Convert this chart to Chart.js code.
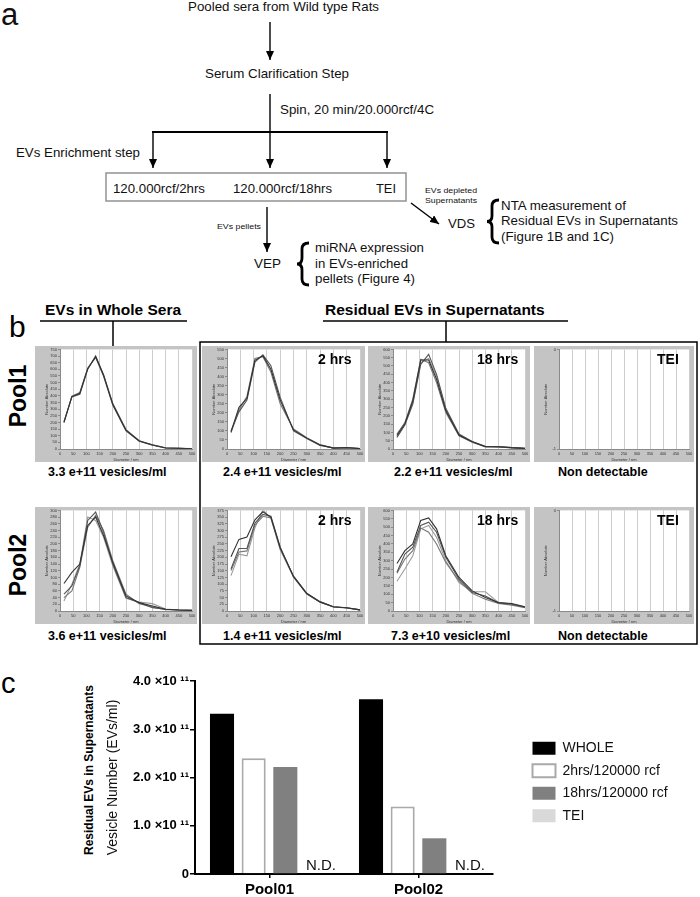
<!DOCTYPE html>
<html>
<head>
<meta charset="utf-8">
<script src="https://cdn.jsdelivr.net/npm/chart.js@4.4.1/dist/chart.umd.min.js"></script>
<style>
  body { margin: 0; background: #fff; }
  #page { position: relative; width: 700px; height: 897px; overflow: hidden; font-family: "Liberation Sans", Arial, sans-serif; color: #000; }
  #flow { position: absolute; left: 0; top: 0; }
  #flow text { font-family: "Liberation Sans", Arial, sans-serif; fill: #111; }
  .abs { position: absolute; white-space: nowrap; }
  .panel { font-size: 30px; line-height: 30px; }
  .head { font-weight: bold; font-size: 15.5px; line-height: 16px; }
  .pool { font-weight: bold; font-size: 23px; line-height: 23px; transform: translate(-50%, -50%) rotate(-90deg); }
  .count { font-weight: bold; font-size: 12.5px; line-height: 14px; }
  .tag { font-weight: bold; font-size: 14px; line-height: 14px; }
  canvas.nta { position: absolute; background: #c4c4c4; }
  #barc { position: absolute; left: 0; top: 665px; }
  .ytitle { font-weight: bold; font-size: 12px; line-height: 12px; transform: translate(-50%, -50%) rotate(-90deg); }
</style>
</head>
<body>
<div id="page">

<svg id="flow" width="700" height="897">
  <defs>
    <marker id="ah" markerWidth="9" markerHeight="8" refX="9" refY="4" orient="auto" markerUnits="userSpaceOnUse">
      <path d="M0,0 L9,4 L0,8 z" fill="#000"/>
    </marker>
  </defs>
  <text x="1" y="25" font-size="31">a</text>

  <text x="188" y="11" font-size="13" textLength="191" lengthAdjust="spacingAndGlyphs">Pooled sera from Wild type Rats</text>
  <line x1="270" y1="22" x2="270" y2="60" stroke="#000" stroke-width="1.4" marker-end="url(#ah)"/>
  <text x="205" y="78" font-size="13" textLength="144" lengthAdjust="spacingAndGlyphs">Serum Clarification Step</text>
  <line x1="270" y1="94" x2="270" y2="168" stroke="#000" stroke-width="1.4" marker-end="url(#ah)"/>
  <text x="280" y="114" font-size="13" textLength="154" lengthAdjust="spacingAndGlyphs">Spin, 20 min/20.000rcf/4C</text>
  <line x1="152" y1="132" x2="388" y2="132" stroke="#000" stroke-width="2"/>
  <line x1="153" y1="132" x2="153" y2="168" stroke="#000" stroke-width="1.4" marker-end="url(#ah)"/>
  <line x1="387" y1="132" x2="387" y2="168" stroke="#000" stroke-width="1.4" marker-end="url(#ah)"/>
  <text x="16" y="157" font-size="13" textLength="124" lengthAdjust="spacingAndGlyphs">EVs Enrichment step</text>

  <rect x="106" y="173" width="300" height="28" fill="none" stroke="#999" stroke-width="1.6"/>
  <text x="113" y="193" font-size="13" textLength="92" lengthAdjust="spacingAndGlyphs">120.000rcf/2hrs</text>
  <text x="233" y="193" font-size="13" textLength="99" lengthAdjust="spacingAndGlyphs">120.000rcf/18hrs</text>
  <text x="376" y="193" font-size="13" textLength="20" lengthAdjust="spacingAndGlyphs">TEI</text>

  <text x="425" y="193" font-size="8" textLength="52" lengthAdjust="spacingAndGlyphs">EVs depleted</text>
  <text x="425" y="203" font-size="8" textLength="52" lengthAdjust="spacingAndGlyphs">Supernatants</text>
  <line x1="411" y1="203" x2="439" y2="224" stroke="#000" stroke-width="1.4" marker-end="url(#ah)"/>
  <text x="448" y="228" font-size="13" textLength="27" lengthAdjust="spacingAndGlyphs">VDS</text>
  <path d="M499,200 Q492,200 492,206 L492,216 Q492,221.5 487,221.5 Q492,221.5 492,227 L492,237 Q492,243 499,243" fill="none" stroke="#000" stroke-width="2.8"/>
  <text x="501" y="210" font-size="13" textLength="125" lengthAdjust="spacingAndGlyphs">NTA measurement of</text>
  <text x="501" y="225" font-size="13" textLength="177" lengthAdjust="spacingAndGlyphs">Residual EVs in Supernatants</text>
  <text x="501" y="241" font-size="13" textLength="113" lengthAdjust="spacingAndGlyphs">(Figure 1B and 1C)</text>

  <line x1="267" y1="207" x2="267" y2="252" stroke="#000" stroke-width="1.4" marker-end="url(#ah)"/>
  <text x="217" y="229" font-size="8" textLength="44" lengthAdjust="spacingAndGlyphs">EVs pellets</text>
  <text x="254" y="268" font-size="13" textLength="27" lengthAdjust="spacingAndGlyphs">VEP</text>
  <path d="M309,243 Q302,243 302,249 L302,258 Q302,264 297,264 Q302,264 302,270 L302,279 Q302,285 309,285" fill="none" stroke="#000" stroke-width="2.8"/>
  <text x="315" y="252" font-size="13" textLength="109" lengthAdjust="spacingAndGlyphs">miRNA expression</text>
  <text x="315" y="268" font-size="13" textLength="93" lengthAdjust="spacingAndGlyphs">in EVs-enriched</text>
  <text x="315" y="283" font-size="13" textLength="100" lengthAdjust="spacingAndGlyphs">pellets (Figure 4)</text>

  <!-- panel b frame lines -->
  <line x1="40" y1="321" x2="187" y2="321" stroke="#000" stroke-width="1.5"/>
  <line x1="113" y1="321" x2="113" y2="346" stroke="#000" stroke-width="1.5"/>
  <line x1="323" y1="321" x2="568" y2="321" stroke="#000" stroke-width="1.5"/>
  <line x1="446" y1="321" x2="446" y2="342" stroke="#000" stroke-width="1.5"/>
  <rect x="200" y="342" width="497" height="302" fill="none" stroke="#000" stroke-width="1.5"/>
</svg>

<div class="abs panel" style="left:9px; top:312px;">b</div>
<div class="abs head" style="left:45px; top:302px;">EVs in Whole Sera</div>
<div class="abs head" style="left:325px; top:302px;">Residual EVs in Supernatants</div>
<div class="abs pool" style="left:18px; top:396px;">Pool1</div>
<div class="abs pool" style="left:18px; top:565px;">Pool2</div>

<canvas class="nta" id="p1w" width="162" height="116" style="left:35px; top:346px;"></canvas>
<canvas class="nta" id="p1h2" width="163" height="116" style="left:202px; top:346px;"></canvas>
<canvas class="nta" id="p1h18" width="162" height="116" style="left:368px; top:346px;"></canvas>
<canvas class="nta" id="p1tei" width="160" height="116" style="left:534px; top:346px;"></canvas>
<canvas class="nta" id="p2w" width="162" height="117" style="left:35px; top:507px;"></canvas>
<canvas class="nta" id="p2h2" width="163" height="117" style="left:202px; top:507px;"></canvas>
<canvas class="nta" id="p2h18" width="162" height="117" style="left:368px; top:507px;"></canvas>
<canvas class="nta" id="p2tei" width="160" height="117" style="left:534px; top:507px;"></canvas>

<div class="abs tag" style="left:318px; top:352px;">2 hrs</div>
<div class="abs tag" style="left:477px; top:352px;">18 hrs</div>
<div class="abs tag" style="left:657px; top:352px;">TEI</div>
<div class="abs tag" style="left:318px; top:513px;">2 hrs</div>
<div class="abs tag" style="left:477px; top:513px;">18 hrs</div>
<div class="abs tag" style="left:657px; top:513px;">TEI</div>

<div class="abs count" style="left:48px; top:465px;">3.3 e+11 vesicles/ml</div>
<div class="abs count" style="left:223px; top:465px;">2.4 e+11 vesicles/ml</div>
<div class="abs count" style="left:394px; top:465px;">2.2 e+11 vesicles/ml</div>
<div class="abs count" style="left:558px; top:465px;">Non detectable</div>
<div class="abs count" style="left:48px; top:629px;">3.6 e+11 vesicles/ml</div>
<div class="abs count" style="left:223px; top:629px;">1.4 e+11 vesicles/ml</div>
<div class="abs count" style="left:391px; top:629px;">7.3 e+10 vesicles/ml</div>
<div class="abs count" style="left:558px; top:629px;">Non detectable</div>

<div class="abs panel" style="left:1px; top:668px; font-size:29px;">c</div>
<div class="abs ytitle" style="left:89px; top:770px;">Residual EVs in Supernatants</div>
<canvas id="barc" width="700" height="232"></canvas>

</div>
<script>
// ---- NTA size distributions (Diameter / nm vs Number Absolute) ----
const nta_diameter = [15, 45, 75, 105, 135, 165, 200, 250, 300, 350, 400, 450, 500];

// Pool1, whole sera
const p1w_a = [200, 395, 420, 605, 695, 555, 335, 140, 60, 30, 8, 6, 2];
const p1w_b = [205, 392, 412, 600, 700, 560, 342, 146, 62, 32, 9, 5, 2];
const p1w_c = [198, 398, 425, 610, 688, 548, 330, 136, 58, 29, 7, 6, 3];
// Pool1, 2 hrs supernatant
const p1h2_a = [95, 230, 280, 490, 515, 440, 270, 105, 60, 22, 5, 8, 2];
const p1h2_b = [100, 205, 270, 480, 520, 460, 285, 100, 58, 20, 6, 7, 2];
const p1h2_c = [90, 215, 290, 500, 510, 425, 250, 110, 62, 24, 5, 6, 3];
// Pool1, 18 hrs supernatant
const p1h18_a = [83, 152, 290, 536, 536, 420, 230, 83, 43, 14, 14, 8, 4];
const p1h18_b = [70, 145, 270, 510, 570, 450, 245, 90, 45, 16, 13, 7, 3];
const p1h18_c = [90, 160, 300, 540, 520, 400, 220, 80, 40, 12, 15, 9, 4];
const p1h18_d = [78, 150, 280, 520, 545, 440, 238, 86, 42, 15, 12, 8, 4];
// Pool2, whole sera
const p2w_a = [82, 115, 140, 255, 280, 225, 145, 45, 25, 15, 5, 3, 2];
const p2w_b = [50, 75, 135, 270, 295, 235, 140, 40, 25, 10, 5, 3, 2];
const p2w_c = [40, 60, 130, 250, 285, 240, 150, 50, 22, 12, 4, 3, 2];
const p2w_d = [30, 80, 140, 280, 270, 220, 135, 38, 27, 22, 6, 3, 1];
// Pool2, 2 hrs supernatant
const p2h2_a = [202, 267, 276, 340, 370, 350, 236, 129, 65, 34, 16, 12, 4];
const p2h2_b = [157, 233, 233, 328, 360, 353, 238, 128, 64, 33, 15, 11, 4];
const p2h2_c = [151, 220, 224, 320, 353, 347, 232, 130, 66, 35, 16, 12, 4];
const p2h2_d = [132, 212, 206, 310, 377, 345, 228, 126, 63, 34, 15, 12, 4];
// Pool2, 18 hrs supernatant
const p2h18_a = [283, 360, 400, 540, 555, 490, 330, 200, 120, 80, 50, 45, 25];
const p2h18_b = [231, 340, 380, 510, 530, 470, 320, 190, 110, 90, 48, 40, 22];
const p2h18_c = [225, 310, 360, 495, 470, 400, 290, 180, 105, 70, 45, 35, 20];
const p2h18_d = [177, 250, 330, 490, 510, 440, 300, 170, 115, 115, 50, 42, 25];

// ---- panel c bar chart ----
const bar_categories = ['Pool01', 'Pool02'];
const bar_series = ['WHOLE', '2hrs/120000 rcf', '18hrs/120000 rcf', 'TEI'];
const whole_counts = [3.32e11, 3.62e11];
const hrs2_counts = [2.4e11, 1.4e11];
const hrs18_counts = [2.22e11, 0.74e11];
const tei_counts = [0, 0];

Chart.defaults.font.family = "'Liberation Sans', Arial, sans-serif";
Chart.defaults.color = '#000';

const line_greys = ['#333', '#555', '#777', '#9c9c9c'];

// white plot area on the grey frame
const plotWhite = {
  id: 'plotWhite',
  beforeDraw(chart) {
    const a = chart.chartArea;
    chart.ctx.save();
    chart.ctx.fillStyle = '#fff';
    chart.ctx.fillRect(a.left, a.top, a.right - a.left, a.bottom - a.top);
    chart.ctx.restore();
  }
};

function ntaChart(id, series, yMin, yMax, yStep) {
  new Chart(document.getElementById(id), {
    type: 'line',
    data: {
      datasets: series.map((s, i) => ({
        data: s.map((v, k) => ({x: nta_diameter[k], y: v})),
        borderColor: line_greys[i],
        borderWidth: 1.1,
        pointRadius: 0,
        fill: false,
        tension: 0,
      })),
    },
    options: {
      animation: false,
      responsive: false,
      events: [],
      layout: {padding: {top: 3, right: 5, left: 0, bottom: 0}},
      plugins: {legend: {display: false}, tooltip: {enabled: false}},
      scales: {
        x: {
          type: 'linear', min: 0, max: 500,
          ticks: {stepSize: 50, font: {size: 4}, color: '#333', padding: 0, maxRotation: 0, autoSkip: false},
          grid: {color: '#cdcdcd', tickLength: 2},
          border: {color: '#8a8a8a'},
          title: {display: true, text: 'Diameter / nm', font: {size: 4}, color: '#333', padding: 0},
          afterFit(s) { s.height = 13; },
        },
        y: {
          min: yMin, max: yMax,
          ticks: {stepSize: yStep, font: {size: 4}, color: '#333', padding: 1, autoSkip: false},
          grid: {drawOnChartArea: false, tickLength: 2, color: '#8a8a8a'},
          border: {color: '#8a8a8a'},
          title: {display: true, text: 'Number Absolute', font: {size: 4}, color: '#333', padding: {top: 9, bottom: 0}},
          afterFit(s) { s.width = 25; },
        },
      },
    },
    plugins: [plotWhite],
  });
}

ntaChart('p1w', [p1w_a, p1w_b, p1w_c], 0, 750, 50);
ntaChart('p1h2', [p1h2_a, p1h2_b, p1h2_c], 0, 550, 50);
ntaChart('p1h18', [p1h18_a, p1h18_b, p1h18_c, p1h18_d], 0, 600, 50);
ntaChart('p1tei', [], -1, 0, 1);
ntaChart('p2w', [p2w_a, p2w_b, p2w_c, p2w_d], 0, 300, 20);
ntaChart('p2h2', [p2h2_a, p2h2_b, p2h2_c, p2h2_d], 0, 375, 25);
ntaChart('p2h18', [p2h18_a, p2h18_b, p2h18_c, p2h18_d], 0, 600, 50);
ntaChart('p2tei', [], -1, 0, 1);

// "N.D." written where the TEI bars would stand
const ndLabels = {
  id: 'ndLabels',
  afterDatasetsDraw(chart) {
    const meta = chart.getDatasetMeta(3);
    const ctx = chart.ctx;
    ctx.save();
    ctx.font = "15px 'Liberation Sans', Arial, sans-serif";
    ctx.fillStyle = '#111';
    ctx.textAlign = 'center';
    ctx.textBaseline = 'middle';
    meta.data.forEach((bar, i) => {
      if (!tei_counts[i]) ctx.fillText('N.D.', bar.x + 4, chart.scales.y.bottom - 8);
    });
    ctx.restore();
  }
};

// legend: fixed width, nudged up a little
const legendFit = {
  id: 'legendFit',
  beforeInit(chart) {
    const fit = chart.legend.fit;
    chart.legend.fit = function() {
      fit.bind(chart.legend)();
      this.width = 176;
    };
  },
  afterLayout(chart) {
    chart.legend.top -= 7;
    chart.legend.bottom -= 7;
  }
};

new Chart(document.getElementById('barc'), {
  type: 'bar',
  data: {
    labels: bar_categories,
    datasets: [
      {label: bar_series[0], data: whole_counts, backgroundColor: '#000', borderWidth: 0, yAxisID: 'y'},
      {label: bar_series[1], data: hrs2_counts, backgroundColor: '#fff', borderColor: '#a9a9a9', borderWidth: 2, yAxisID: 'y'},
      {label: bar_series[2], data: hrs18_counts, backgroundColor: '#808080', borderWidth: 0, yAxisID: 'y'},
      {label: bar_series[3], data: tei_counts, backgroundColor: '#d9d9d9', borderWidth: 0, yAxisID: 'y'},
    ],
  },
  options: {
    animation: false,
    responsive: false,
    events: [],
    datasets: {bar: {categoryPercentage: 0.85, barPercentage: 0.76}},
    layout: {padding: {top: 16, left: 0, right: 0, bottom: 0}},
    plugins: {
      tooltip: {enabled: false},
      legend: {
        position: 'right',
        align: 'center',
        labels: {boxWidth: 23, boxHeight: 13, padding: 8.5, color: '#111', font: {size: 14}},
      },
    },
    scales: {
      x: {
        ticks: {font: {size: 15, weight: 'bold'}, color: '#000', padding: 3},
        grid: {drawOnChartArea: false, offset: false, tickLength: 4, color: '#000', lineWidth: 1.5},
        border: {color: '#000', width: 2},
        afterFit(s) { s.height = 23; },
      },
      y: {
        min: 0, max: 4e11,
        ticks: {
          stepSize: 1e11,
          font: {size: 13, weight: 'bold'},
          color: '#000',
          padding: 1,
          callback: (v) => v === 0 ? '0' : (v / 1e11).toFixed(1) + ' ×10 ¹¹',
        },
        grid: {drawOnChartArea: false, tickLength: 5, color: '#000', lineWidth: 1.5},
        border: {color: '#000', width: 2},
        title: {display: true, text: 'Vesicle Number (EVs/ml)', font: {size: 14}, color: '#111', padding: {top: 105, bottom: 0}},
        afterFit(s) { s.width = 195; },
      },
      gap: {
        type: 'linear',
        position: 'right',
        grid: {display: false},
        ticks: {display: false},
        border: {display: false},
        afterFit(s) { s.width = 31; },
      },
    },
  },
  plugins: [ndLabels, legendFit],
});
</script>
</body>
</html>
